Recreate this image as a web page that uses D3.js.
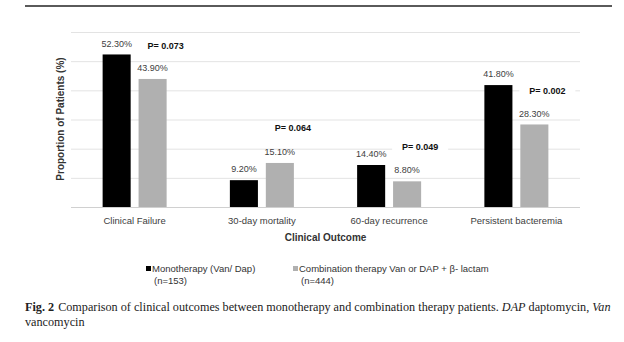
<!DOCTYPE html>
<html>
<head>
<meta charset="utf-8">
<script src="https://cdn.jsdelivr.net/npm/d3@7"></script>
<style>
  body { margin: 0; background: #fff; }
  svg { display: block; }
  .sans { font-family: "Liberation Sans", Arial, sans-serif; }
  .serif { font-family: "Liberation Serif", "DejaVu Serif", serif; }
</style>
</head>
<body>
<div id="app"></div>
<script>
// chart values
var categories = ["Clinical Failure", "30-day mortality", "60-day recurrence", "Persistent bacteremia"];
var seriesNames = ["Monotherapy (Van/ Dap)", "Combination therapy Van or DAP + \u03b2- lactam"];
var seriesN = ["(n=153)", "(n=444)"];
var monoValues = [52.3, 9.2, 14.4, 41.8];
var comboValues = [43.9, 15.1, 8.8, 28.3];
var pLabels = ["P= 0.073", "P= 0.064", "P= 0.049", "P= 0.002"];
var pLevels = [55.2, 27.1, 20.6, 39.8]; // height of p label, in % units
var yTicks = [0, 10, 20, 30, 40, 50, 60];
var colors = ["#000000", "#b0b0b0"];

var width = 624, height = 342;
var margin = {top: 32, right: 44, bottom: 135, left: 71};

var svg = d3.select("#app").append("svg")
    .attr("width", width)
    .attr("height", height);

// rule on top of the figure
svg.append("line")
    .attr("x1", 25).attr("x2", 612)
    .attr("y1", 6).attr("y2", 6)
    .attr("stroke", "#5a5a5a")
    .attr("stroke-width", 2);

var x0 = d3.scaleBand()
    .domain(categories)
    .range([margin.left, width - margin.right]);

var x1 = d3.scaleBand()
    .domain([0, 1])
    .range([0, 64])
    .paddingInner(0.22);

var y = d3.scaleLinear()
    .domain([0, 60])
    .range([height - margin.bottom, margin.top]);

var groupOffset = (x0.bandwidth() - 64) / 2;

// gridlines
svg.append("g")
    .attr("class", "grid")
    .attr("transform", "translate(" + margin.left + ",0)")
    .call(d3.axisLeft(y)
        .tickValues(yTicks)
        .tickSize(-(width - margin.left - margin.right))
        .tickFormat(function() { return null; }))
    .call(function(g) { g.select(".domain").remove(); })
  .selectAll("line")
    .attr("stroke", function(d) { return d === 0 ? "#d0d0d0" : "#e3e3e3"; })
    .attr("stroke-width", 1);

var rows = categories.map(function(c, i) {
  return {cat: c, values: [monoValues[i], comboValues[i]], p: pLabels[i], pLevel: pLevels[i]};
});

var groups = svg.append("g").selectAll("g")
    .data(rows)
  .enter().append("g")
    .attr("transform", function(d) { return "translate(" + (x0(d.cat) + groupOffset) + ",0)"; });

groups.selectAll("rect")
    .data(function(d) { return d.values; })
  .enter().append("rect")
    .attr("x", function(d, i) { return x1(i); })
    .attr("y", function(d) { return y(d); })
    .attr("width", x1.bandwidth())
    .attr("height", function(d) { return y(0) - y(d); })
    .attr("fill", function(d, i) { return colors[i]; });

groups.selectAll("text.val")
    .data(function(d) { return d.values; })
  .enter().append("text")
    .attr("class", "val sans")
    .attr("x", function(d, i) { return x1(i) + x1.bandwidth() / 2; })
    .attr("y", function(d) { return y(d) - 11; })
    .attr("dy", "0.35em")
    .attr("text-anchor", "middle")
    .attr("font-size", 9)
    .attr("fill", "#404040")
    .text(function(d) { return d3.format(".2f")(d) + "%"; });

// p-value labels with white box behind them
var pg = groups.append("g")
    .attr("transform", function(d) {
      return "translate(" + (x1(1) + x1.bandwidth() / 2 + 13) + "," + y(d.pLevel) + ")";
    });

pg.append("rect")
    .attr("x", -28).attr("y", -7)
    .attr("width", 56).attr("height", 14)
    .attr("fill", "#fff");

pg.append("text")
    .attr("class", "sans")
    .attr("text-anchor", "middle")
    .attr("dy", "0.35em")
    .attr("font-size", 9)
    .attr("font-weight", "bold")
    .attr("fill", "#111")
    .text(function(d) { return d.p; });

// x axis labels
var xAxis = svg.append("g")
    .attr("transform", "translate(0," + y(0) + ")")
    .call(d3.axisBottom(x0).tickSize(0).tickPadding(10));
xAxis.select(".domain").remove();
xAxis.selectAll("text")
    .attr("class", "sans")
    .attr("font-size", 9.5)
    .attr("fill", "#404040");

svg.append("text")
    .attr("class", "sans")
    .attr("x", (margin.left + width - margin.right) / 2)
    .attr("y", 241)
    .attr("text-anchor", "middle")
    .attr("font-size", 10)
    .attr("font-weight", "bold")
    .attr("fill", "#333")
    .text("Clinical Outcome");

svg.append("text")
    .attr("class", "sans")
    .attr("transform", "translate(64,119) rotate(-90)")
    .attr("text-anchor", "middle")
    .attr("font-size", 10)
    .attr("font-weight", "bold")
    .attr("fill", "#333")
    .text("Proportion of Patients (%)");

// legend
var legendX = [146, 293];
var legend = svg.append("g").selectAll("g")
    .data(seriesNames)
  .enter().append("g")
    .attr("transform", function(d, i) { return "translate(" + legendX[i] + ",269)"; });

legend.append("rect")
    .attr("x", 0).attr("y", -3)
    .attr("width", 5).attr("height", 5)
    .attr("fill", function(d, i) { return colors[i]; });

legend.append("text")
    .attr("class", "sans")
    .attr("x", 6)
    .attr("dy", "0.35em")
    .attr("font-size", 9.5)
    .attr("fill", "#333")
    .text(function(d) { return d; });

legend.append("text")
    .attr("class", "sans")
    .attr("x", 8)
    .attr("y", 12)
    .attr("dy", "0.35em")
    .attr("font-size", 9.5)
    .attr("fill", "#333")
    .text(function(d, i) { return seriesN[i]; });

// caption
var cap = svg.append("text")
    .attr("class", "serif")
    .attr("x", 25)
    .attr("y", 311)
    .attr("font-size", 12.2)
    .attr("fill", "#222");
cap.append("tspan").attr("font-weight", "bold").text("Fig. 2");
cap.append("tspan").attr("dx", 4).text("Comparison of clinical outcomes between monotherapy and combination therapy patients. ");
cap.append("tspan").attr("font-style", "italic").text("DAP");
cap.append("tspan").text(" daptomycin, ");
cap.append("tspan").attr("font-style", "italic").text("Van");

svg.append("text")
    .attr("class", "serif")
    .attr("x", 25)
    .attr("y", 326)
    .attr("font-size", 12.2)
    .attr("fill", "#222")
    .text("vancomycin");
</script>
</body>
</html>
